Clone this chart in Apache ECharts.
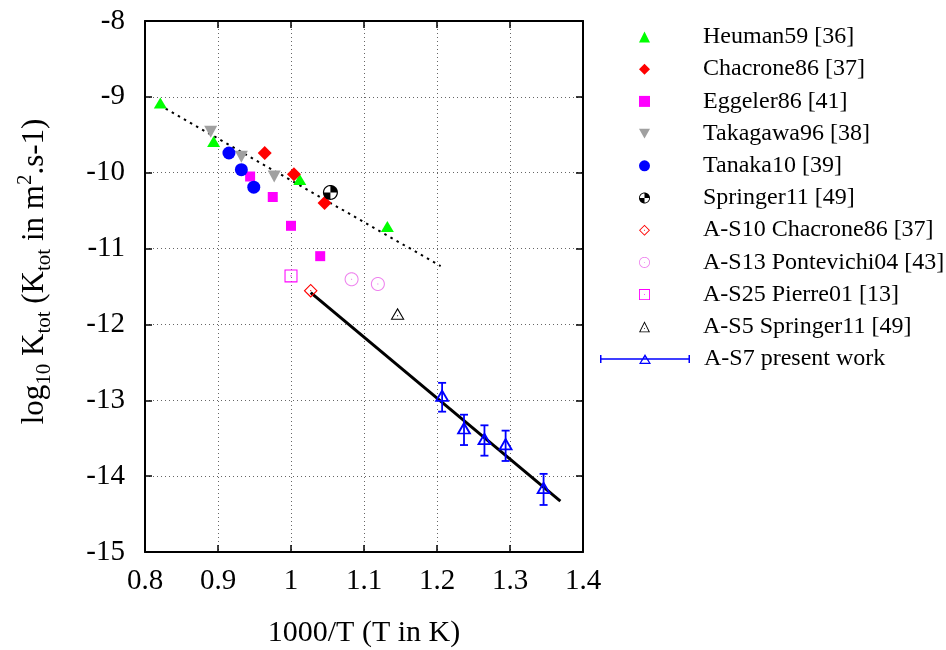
<!DOCTYPE html>
<html>
<head>
<meta charset="utf-8">
<script src="https://cdn.jsdelivr.net/npm/echarts@6/dist/echarts.min.js"></script>
<style>html,body{margin:0;padding:0;background:#fff}#c{width:946px;height:650px}</style>
</head>
<body>
<div id="c"></div>
<script>
// ---- data ----
const xTicks = [0.8, 0.9, 1.0, 1.1, 1.2, 1.3, 1.4];
const yTicks = [-15, -14, -13, -12, -11, -10, -9, -8];

const heumanX = [0.821, 0.894, 1.012, 1.132];
const heumanY = [-9.08, -9.59, -10.09, -10.71];
const chacroneX = [0.964, 1.004, 1.046];
const chacroneY = [-9.74, -10.02, -10.40];
const eggelerX = [0.944, 0.975, 1.000, 1.040];
const eggelerY = [-10.05, -10.32, -10.70, -11.10];
const takagawaX = [0.890, 0.932, 0.977];
const takagawaY = [-9.46, -9.79, -10.05];
const tanakaX = [0.915, 0.932, 0.949];
const tanakaY = [-9.74, -9.96, -10.19];
const springerX = [1.054];
const springerY = [-10.26];
const as10X = [1.027];
const as10Y = [-11.555];
const as13X = [1.083, 1.119];
const as13Y = [-11.405, -11.467];
const as25X = [1.000];
const as25Y = [-11.36];
const as5X = [1.146];
const as5Y = [-11.86];
const as7X = [1.207, 1.237, 1.265, 1.294, 1.346];
const as7Y = [-12.96, -13.39, -13.53, -13.60, -14.175];
const as7Lo = [-13.15, -13.59, -13.73, -13.80, -14.38];
const as7Hi = [-12.77, -13.19, -13.33, -13.40, -13.97];
const fitDotX = [0.82, 1.205];
const fitDotY = [-9.11, -11.23];
const fitSolidX = [1.027, 1.369];
const fitSolidY = [-11.58, -14.33];

const names = ['Heuman59 [36]', 'Chacrone86 [37]', 'Eggeler86 [41]', 'Takagawa96 [38]',
  'Tanaka10 [39]', 'Springer11 [49]', 'A-S10 Chacrone86 [37]', 'A-S13 Pontevichi04 [43]',
  'A-S25 Pierre01 [13]', 'A-S5 Springer11 [49]', 'A-S7 present work'];

// ---- symbol path helpers (styling only) ----
function poly(pts, rev) {
  const p = rev ? pts.slice().reverse() : pts;
  return 'M' + p.map(q => q[0].toFixed(3) + ',' + q[1].toFixed(3)).join('L') + 'Z';
}
function circ(cx, cy, r, n) {
  const a = [];
  for (let i = 0; i < n; i++) { const t = i * 2 * Math.PI / n; a.push([cx + r * Math.cos(t), cy + r * Math.sin(t)]); }
  return a;
}
function wedge(cx, cy, r, a0, a1, n) {
  const a = [[cx, cy]];
  for (let i = 0; i <= n; i++) { const t = a0 + (a1 - a0) * i / n; a.push([cx + r * Math.cos(t), cy + r * Math.sin(t)]); }
  return a;
}
const dot = poly(circ(10, 10, 0.9, 12));
function circleRing(t) { return 'path://' + poly(circ(10, 10, 10, 48)) + poly(circ(10, 10, 10 - t, 48), true) + dot; }
function diamondRing(t) {
  const d = t * Math.SQRT2;
  return 'path://' + poly([[10, 0], [20, 10], [10, 20], [0, 10]]) + poly([[10, d], [20 - d, 10], [10, 20 - d], [d, 10]], true) + dot;
}
function squareRing(t) {
  return 'path://' + poly([[0, 0], [20, 0], [20, 20], [0, 20]]) + poly([[t, t], [20 - t, t], [20 - t, 20 - t], [t, 20 - t]], true) + dot;
}
function triRing(t, withDot) {
  return 'path://' + poly([[10, 0], [20, 20], [0, 20]]) + poly([[10, 2.236 * t], [20 - 1.618 * t, 20 - t], [1.618 * t, 20 - t]], true) + (withDot ? poly(circ(10, 13.3, 0.9, 12)) : '');
}
const downTri = 'path://M0,0L20,0L10,18Z';
const springerSym = 'path://' + poly(circ(10, 10, 10, 48)) + poly(circ(10, 10, 8.4, 48), true) +
  poly(wedge(10, 10, 8.6, -Math.PI / 2, 0, 12)) + poly(wedge(10, 10, 8.6, Math.PI / 2, Math.PI, 12));

// legend icon for error-bar entry (90 x 10 units)
function as7Icon() {
  const cx = 45;
  const tri = [[cx, 0], [cx + 6, 10], [cx - 6, 10]];
  const t = 1.3;
  const triIn = [[cx, 2.9], [cx + 6 - 2.1, 10 - t], [cx - 6 + 2.1, 10 - t]];
  return 'path://' + poly([[0, 1], [1.5, 1], [1.5, 9], [0, 9]]) +
    poly([[88.5, 1], [90, 1], [90, 9], [88.5, 9]]) +
    poly([[0, 4.3], [90, 4.3], [90, 5.7], [0, 5.7]]) +
    poly(tri) + poly(triIn, true);
}

const zip = (a, b) => a.map((v, i) => [v, b[i]]);
const FONT = 'Liberation Serif';

function scatter(name, xs, ys, color, symbol, size, extra) {
  return Object.assign({
    name: name, type: 'scatter', data: zip(xs, ys), symbol: symbol, symbolSize: size,
    itemStyle: { color: color, opacity: 1 }, z: 5, silent: true
  }, extra || {});
}

const series = [
  { type: 'line', data: zip(fitDotX, fitDotY), symbol: 'none', silent: true, z: 2,
    lineStyle: { color: '#000', width: 2, type: [2.5, 4.5] } },
  { type: 'line', data: zip(fitSolidX, fitSolidY), symbol: 'none', silent: true, z: 2,
    lineStyle: { color: '#000', width: 3 } },
  scatter(names[0], heumanX, heumanY, '#00ff00', 'triangle', [13, 11]),
  scatter(names[1], chacroneX, chacroneY, '#ff0000', 'diamond', 14),
  scatter(names[2], eggelerX, eggelerY, '#ff00ff', 'rect', 10),
  scatter(names[3], takagawaX, takagawaY, '#a0a0a0', downTri, [13, 12]),
  scatter(names[4], tanakaX, tanakaY, '#0000ff', 'circle', 13),
  scatter(names[5], springerX, springerY, '#000000', springerSym, 15),
  scatter(names[6], as10X, as10Y, '#ff0000', diamondRing(1.6), 14),
  scatter(names[7], as13X, as13Y, '#ee82ee', circleRing(1.5), 14),
  scatter(names[8], as25X, as25Y, '#ff00ff', squareRing(1.6), 13),
  scatter(names[9], as5X, as5Y, '#000000', triRing(1.6, true), [14, 12]),
  {
    type: 'custom', silent: true, z: 4,
    data: as7X.map((x, i) => [x, as7Lo[i], as7Hi[i]]),
    encode: { x: 0, y: [1, 2] },
    renderItem: function (params, api) {
      const p1 = api.coord([api.value(0), api.value(1)]);
      const p2 = api.coord([api.value(0), api.value(2)]);
      const c = 4;
      const st = { stroke: '#0000ff', lineWidth: 1.8 };
      return { type: 'group', children: [
        { type: 'line', shape: { x1: p1[0], y1: p1[1], x2: p2[0], y2: p2[1] }, style: st },
        { type: 'line', shape: { x1: p1[0] - c, y1: p1[1], x2: p1[0] + c, y2: p1[1] }, style: st },
        { type: 'line', shape: { x1: p2[0] - c, y1: p2[1], x2: p2[0] + c, y2: p2[1] }, style: st }
      ] };
    }
  },
  scatter(names[10], as7X, as7Y, '#0000ff', triRing(2.6, false), [15, 13], { symbolOffset: [0, -2] })
];

const axisCommon = {
  axisLine: { show: true, lineStyle: { color: '#000', width: 2 } },
  axisTick: { show: true, inside: true, length: 7, lineStyle: { color: '#000', width: 1.5 } },
  splitLine: { show: false }
};

const option = {
  animation: false,
  backgroundColor: '#fff',
  textStyle: { fontFamily: FONT, color: '#000' },
  grid: { left: 145, right: 363, top: 21, bottom: 98, containLabel: false, outerBoundsMode: 'none' },
  xAxis: [
    Object.assign({}, axisCommon, {
      type: 'value', min: xTicks[0], max: xTicks[xTicks.length - 1], interval: 0.1, position: 'bottom',
      axisLabel: { fontSize: 29, fontFamily: FONT, color: '#000', margin: 15,
        formatter: v => String(Math.round(v * 10) / 10) },
      name: '1000/T (T in K)', nameLocation: 'middle', nameGap: 66,
      nameTextStyle: { fontSize: 30, fontFamily: FONT, color: '#000' },
      splitLine: { show: true, lineStyle: { color: '#666', width: 1, type: [1, 3] } }
    }),
    Object.assign({}, axisCommon, {
      type: 'value', min: xTicks[0], max: xTicks[xTicks.length - 1], interval: 0.1, position: 'top',
      axisLabel: { show: false }
    })
  ],
  yAxis: [
    Object.assign({}, axisCommon, {
      type: 'value', min: yTicks[0], max: yTicks[yTicks.length - 1], interval: 1, position: 'left',
      axisLabel: { fontSize: 29, fontFamily: FONT, color: '#000', margin: 20,
        formatter: v => String(v).replace('\u2212', '-') },
      name: '{n|log}{s|10}{n| K}{s|tot}{n| (K}{s|tot}{n| in m}{p|2}{n|.s-1)}',
      nameLocation: 'middle', nameGap: 90, nameRotate: 90,
      nameTextStyle: {
        fontFamily: FONT, color: '#000', padding: [0, 0, 0, 30],
        rich: {
          n: { fontSize: 31, lineHeight: 40, fontFamily: FONT, color: '#000' },
          s: { fontSize: 21, lineHeight: 20, verticalAlign: 'bottom', fontFamily: FONT, color: '#000' },
          p: { fontSize: 21, lineHeight: 20, verticalAlign: 'top', fontFamily: FONT, color: '#000' }
        }
      },
      splitLine: { show: true, lineStyle: { color: '#666', width: 1, type: [1, 3] } }
    }),
    Object.assign({}, axisCommon, {
      type: 'value', min: yTicks[0], max: yTicks[yTicks.length - 1], interval: 1, position: 'right',
      axisLabel: { show: false }
    })
  ],
  legend: [
    {
      data: names.slice(0, 10), orient: 'vertical', left: 634, top: 20,
      itemWidth: 11, itemHeight: 11, itemGap: 8.2, selectedMode: false,
      textStyle: { fontSize: 24, lineHeight: 24, fontFamily: FONT, color: '#000', padding: [0, 0, 0, 48] }
    },
    {
      data: [{ name: names[10], icon: as7Icon() }], orient: 'vertical', left: 595, top: 342,
      itemWidth: 90, itemHeight: 10, selectedMode: false,
      textStyle: { fontSize: 24, lineHeight: 24, fontFamily: FONT, color: '#000', padding: [0, 0, 0, 9] }
    }
  ],
  series: series
};

const chart = echarts.init(document.getElementById('c'), null, { renderer: 'canvas' });
chart.setOption(option);
</script>
</body>
</html>
